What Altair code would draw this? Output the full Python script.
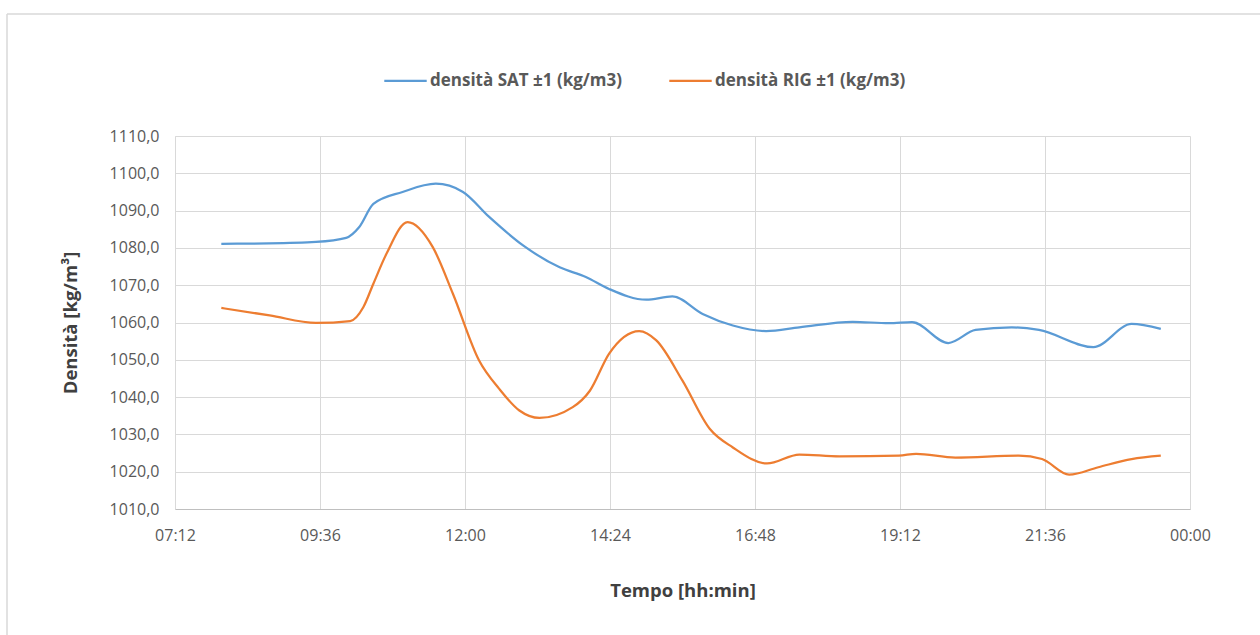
import altair as alt
import pandas as pd

# time in minutes since midnight
sat_t = [478, 525, 572, 602, 615, 629, 658, 691, 718, 744, 778, 814, 840, 863, 900, 926, 956, 986,
         1019, 1052, 1105, 1141, 1164, 1200, 1227, 1263, 1290, 1344, 1382, 1411]
sat_v = [1081.1, 1081.2, 1081.6, 1082.7, 1085.6, 1091.8, 1095.0, 1097.2, 1095.0, 1088.3, 1080.6, 1074.8,
         1072.2, 1069.0, 1066.1, 1067.0, 1062.3, 1059.2, 1057.7, 1058.7, 1060.2, 1059.8, 1060.1, 1054.5,
         1058.0, 1058.7, 1058.0, 1053.4, 1059.6, 1058.3]

rig_t = [478, 526, 572, 606, 619, 629, 642, 663, 688, 708, 734, 754, 774, 794, 827, 844, 863, 893, 910,
         936, 963, 986, 1020, 1052, 1092, 1151, 1168, 1207, 1270, 1293, 1320, 1349, 1382, 1411]
rig_v = [1063.9, 1061.9, 1059.9, 1060.4, 1064.1, 1070.4, 1078.4, 1086.9, 1080.2, 1067.7, 1049.8, 1042.2,
         1036.4, 1034.4, 1037.3, 1041.7, 1051.6, 1057.7, 1055.2, 1044.4, 1031.5, 1026.5, 1022.2, 1024.6,
         1024.1, 1024.3, 1024.8, 1023.8, 1024.3, 1023.4, 1019.2, 1021.2, 1023.4, 1024.3]

series_names = ["densità SAT ±1 (kg/m3)", "densità RIG ±1 (kg/m3)"]
series_colors = ["#5B9BD5", "#ED7D31"]
x_ticks = [432, 576, 720, 864, 1008, 1152, 1296, 1440]
y_ticks = [1010, 1020, 1030, 1040, 1050, 1060, 1070, 1080, 1090, 1100, 1110]

rows = []
for i, (t, v) in enumerate(zip(sat_t, sat_v)):
    rows.append({"t": t, "v": v, "s": series_names[0], "o": i})
for i, (t, v) in enumerate(zip(rig_t, rig_v)):
    rows.append({"t": t, "v": v, "s": series_names[1], "o": i})
df = pd.DataFrame(rows)

FONT = "Open Sans"
GRAY = "#595959"

lines = alt.Chart(df).mark_line(interpolate="monotone", strokeWidth=2.25).encode(
    x=alt.X("t:Q", scale=alt.Scale(domain=[432, 1440], nice=False, zero=False),
            axis=alt.Axis(values=x_ticks, title="Tempo [hh:min]",
                          labelExpr="pad('' + (floor(datum.value/60)%24), 2, '0', 'left') + ':' + pad('' + (datum.value%60), 2, '0', 'left')",
                          labelFont=FONT, labelFontSize=16, labelColor=GRAY, labelPadding=18,
                          titleFont=FONT, titleFontSize=18.5, titleFontWeight="bold", titleColor="#404040",
                          titlePadding=38, grid=True, gridColor="#d9d9d9", ticks=False,
                          domainColor="#bfbfbf", labelFlush=False)),
    y=alt.Y("v:Q", scale=alt.Scale(domain=[1010, 1110], nice=False, zero=False),
            axis=alt.Axis(values=y_ticks, title="Densità [kg/m³]",
                          labelExpr="replace(format(datum.value, '.1f'), '.', ',')",
                          labelFont=FONT, labelFontSize=16, labelColor=GRAY, labelPadding=16,
                          titleFont=FONT, titleFontSize=18.5, titleFontWeight="bold", titleColor="#404040",
                          titlePadding=29, grid=True, gridColor="#d9d9d9", ticks=False,
                          domainColor="#d9d9d9")),
    color=alt.Color("s:N", scale=alt.Scale(domain=series_names, range=series_colors),
                    legend=alt.Legend(title=None, orient="none", direction="horizontal",
                                      legendX=208, legendY=-78, symbolType="stroke",
                                      symbolSize=1800, symbolStrokeWidth=2.25,
                                      labelFont=FONT, labelFontSize=17, labelFontWeight="bold",
                                      labelColor=GRAY, columnPadding=42, labelOffset=2,
                                      labelLimit=400)),
    order="o:Q",
)

border_top = alt.Chart(pd.DataFrame({"a": [0]})).mark_rule(color="#d9d9d9", strokeWidth=1.5).encode(
    x=alt.value(-168), x2=alt.value(1090), y=alt.value(-122))
border_left = alt.Chart(pd.DataFrame({"a": [0]})).mark_rule(color="#d9d9d9", strokeWidth=1.5).encode(
    x=alt.value(-168), y=alt.value(-122), y2=alt.value(505))

chart = alt.layer(border_top, border_left, lines).properties(
    width=1015, height=373,
    autosize=alt.AutoSizeParams(type="none"),
    padding={"left": 175, "top": 136, "right": 70, "bottom": 126},
    background="white",
).configure_view(stroke=None)

chart.save("out.html", embed_options={"renderer": "svg", "actions": False})
